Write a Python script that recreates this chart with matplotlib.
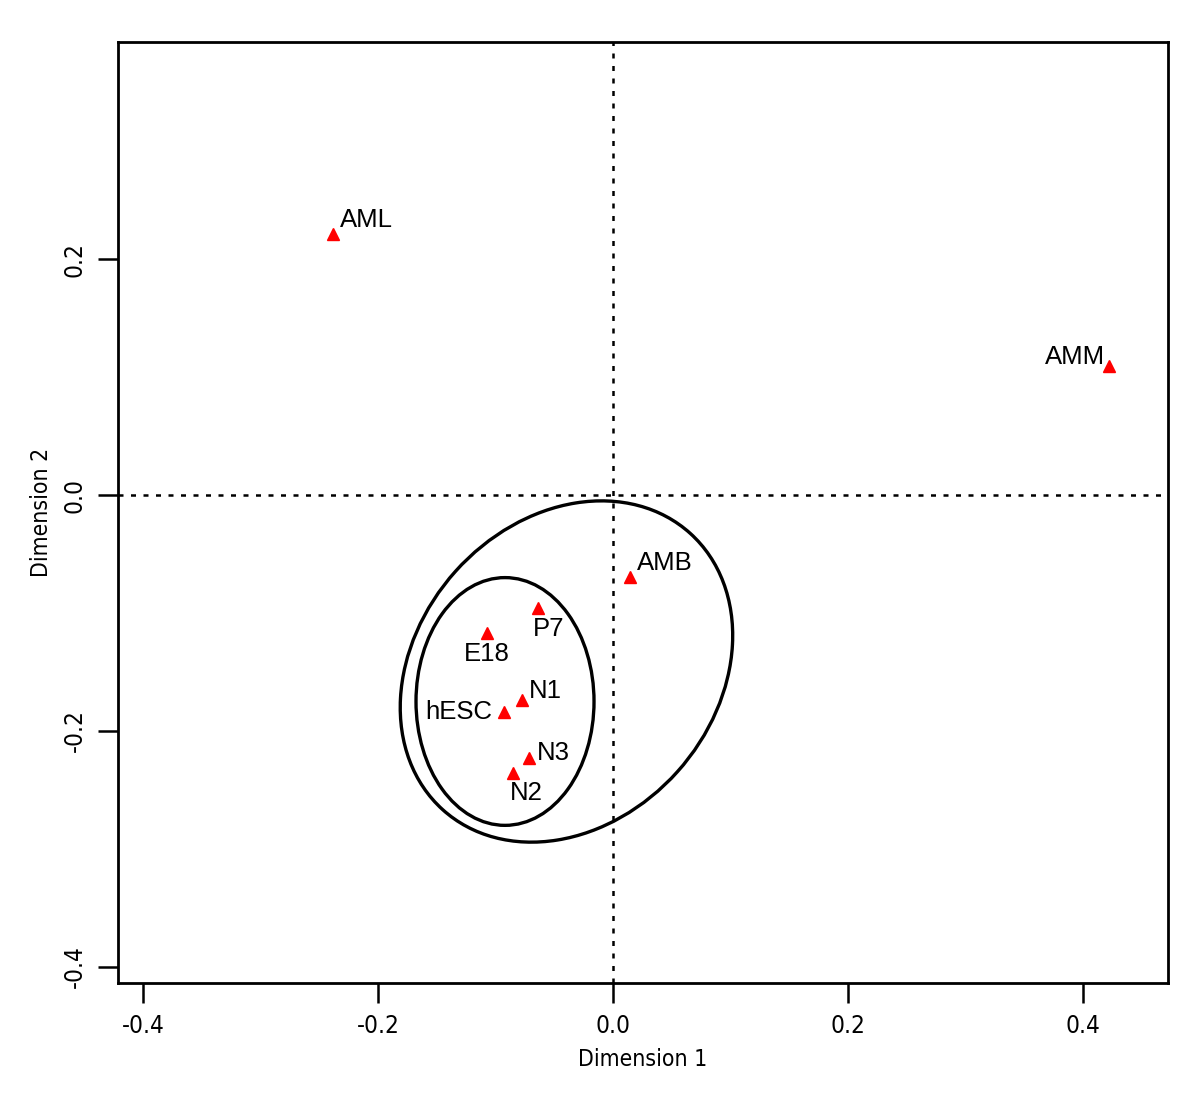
import matplotlib.pyplot as plt
from matplotlib.patches import Ellipse

# sample coordinates (dimension 1, dimension 2)
labels = ['AML', 'AMM', 'AMB', 'P7', 'E18', 'N1', 'hESC', 'N3', 'N2']
dim1 = [-0.238, 0.422, 0.0145, -0.0638, -0.107, -0.0774, -0.0928, -0.0715, -0.0851]
dim2 = [0.221, 0.109, -0.0695, -0.0958, -0.117, -0.174, -0.184, -0.223, -0.236]

# label placement: (dx px, dy px, ha, va)
label_pos = {
    'AML': (7, 2, 'left', 'bottom'),
    'AMM': (-4, -3, 'right', 'bottom'),
    'AMB': (7, 2, 'left', 'bottom'),
    'P7': (-5, -9, 'left', 'top'),
    'E18': (0, -9, 'center', 'top'),
    'N1': (7, -3, 'left', 'bottom'),
    'hESC': (-12, 0, 'right', 'center'),
    'N3': (8, 5, 'left', 'center'),
    'N2': (-3, -8, 'left', 'top'),
}

# group ellipses: center, width, height, angle
inner_ell = ((-0.0919, -0.175), 0.1515, 0.210, 0)
outer_ell = ((-0.0396, -0.1496), 0.315, 0.254, 48)

xticks = [-0.4, -0.2, 0.0, 0.2, 0.4]
yticks = [-0.4, -0.2, 0.0, 0.2]

tickfont = dict(family='DejaVu Sans', stretch='condensed')

fig = plt.figure(figsize=(12, 10.94), dpi=100)
ax = fig.add_axes([0.0983, 0.1015, 0.875, 0.8601])

ax.axhline(0, color='black', ls=(0, (2, 3)), lw=1.8, zorder=1)
ax.axvline(0, color='black', ls=(0, (2, 3)), lw=1.8, zorder=1)

for c, w, h, a in [inner_ell, outer_ell]:
    ax.add_patch(Ellipse(c, w, h, angle=a, fill=False, ec='black', lw=2.4, zorder=2))

ax.plot(dim1, dim2, ls='none', marker='^', color='#ff0000', ms=9, zorder=3)

for lab, x, y in zip(labels, dim1, dim2):
    dx, dy, ha, va = label_pos[lab]
    ax.annotate(lab, (x, y), xytext=(dx, dy), textcoords='offset pixels',
                ha=ha, va=va, fontsize=18.5, family='Liberation Sans')

ax.set_xlim(-0.4213, 0.4723)
ax.set_ylim(-0.4136, 0.384)
ax.set_xticks(xticks)
ax.set_yticks(yticks)
ax.set_xticklabels(['%.1f' % v for v in xticks], fontsize=17.5, **tickfont)
ax.set_yticklabels(['%.1f' % v for v in yticks], fontsize=17.5, rotation=90, va='center', **tickfont)
ax.tick_params(length=14.5, width=1.8, pad=8)

for s in ax.spines.values():
    s.set_linewidth(2)

ax.set_xlabel('Dimension 1', fontsize=16.5, labelpad=7, **tickfont)
ax.set_ylabel('Dimension 2', fontsize=16.5, labelpad=7, **tickfont)

plt.savefig('out.png', dpi=100)
